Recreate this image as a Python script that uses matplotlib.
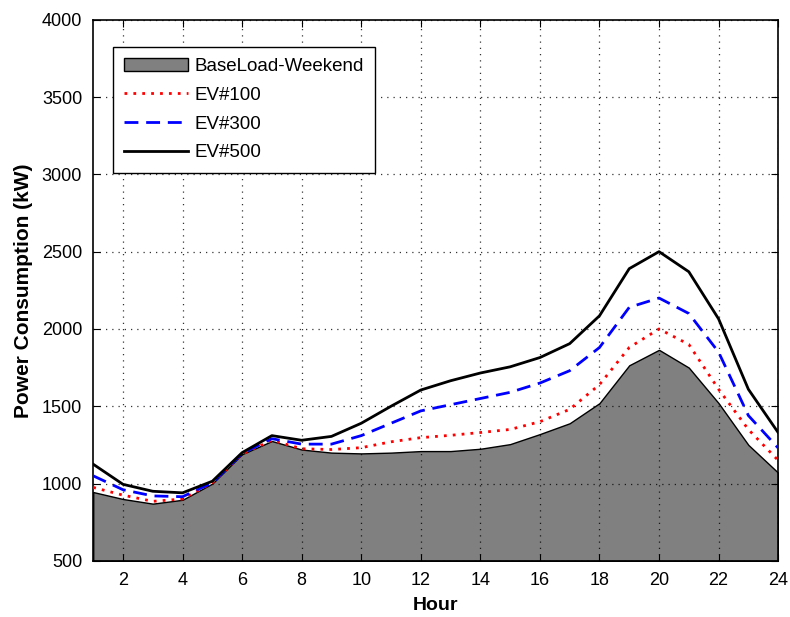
import matplotlib
matplotlib.use("Agg")
import matplotlib.pyplot as plt

hours = list(range(1, 25))
base = [945, 900, 870, 895, 1000, 1190, 1275, 1220, 1200, 1195, 1200, 1210,
        1210, 1225, 1255, 1320, 1390, 1520, 1765, 1865, 1750, 1520, 1250, 1070]
ev100 = [975, 925, 885, 900, 1005, 1190, 1280, 1225, 1220, 1232, 1270, 1297,
         1312, 1330, 1350, 1400, 1480, 1640, 1880, 2000, 1900, 1610, 1350, 1150]
ev300 = [1050, 960, 920, 915, 1005, 1195, 1290, 1255, 1255, 1310, 1390, 1470,
         1510, 1550, 1590, 1650, 1730, 1880, 2140, 2200, 2100, 1850, 1440, 1230]
ev500 = [1125, 995, 950, 940, 1015, 1200, 1310, 1280, 1305, 1390, 1500, 1605,
         1665, 1715, 1755, 1815, 1905, 2085, 2390, 2500, 2370, 2065, 1610, 1330]
xticks = list(range(2, 25, 2))
yticks = list(range(500, 4001, 500))

plt.rcParams['font.family'] = ['Liberation Sans', 'DejaVu Sans']
fig = plt.figure(figsize=(7.9, 6.17), dpi=100)
ax = fig.add_axes([0.118, 0.091, 0.867, 0.877])

ax.fill_between(hours, 500, base, facecolor='#808080', edgecolor='black',
                linewidth=1.0, label='BaseLoad-Weekend', zorder=2)
ax.plot(hours, ev100, color='red', linestyle=(0, (1, 2.2)), linewidth=2,
        label='EV#100', zorder=3)
ax.plot(hours, ev300, color='blue', linestyle=(0, (5, 2.8)), linewidth=2,
        label='EV#300', zorder=3)
ax.plot(hours, ev500, color='black', linestyle='-', linewidth=2,
        label='EV#500', zorder=3)

ax.set_xlim(1, 24)
ax.set_ylim(500, 4000)
ax.set_xticks(xticks)
ax.set_yticks(yticks)
ax.tick_params(direction='in', top=True, right=True, labelsize=13, length=5)
ax.tick_params(axis='y', pad=8)
ax.tick_params(axis='x', pad=8)
ax.grid(True, color='black', linestyle=(0, (1, 4)), linewidth=0.9, alpha=0.8)
ax.set_axisbelow(False)
for s in ax.spines.values():
    s.set_linewidth(1.2)

ax.set_xlabel('Hour', fontsize=14, fontweight='bold', labelpad=6)
ax.set_ylabel('Power Consumption (kW)', fontsize=15, fontweight='bold', labelpad=6)

leg = ax.legend(loc='upper left', bbox_to_anchor=(0.029, 0.95), fontsize=13.5,
                fancybox=False, framealpha=1, edgecolor='black',
                handlelength=3.4, handletextpad=0.35, borderpad=0.6,
                labelspacing=0.62, borderaxespad=0)
leg.get_frame().set_linewidth(1.0)

fig.savefig('out.png', dpi=100)
